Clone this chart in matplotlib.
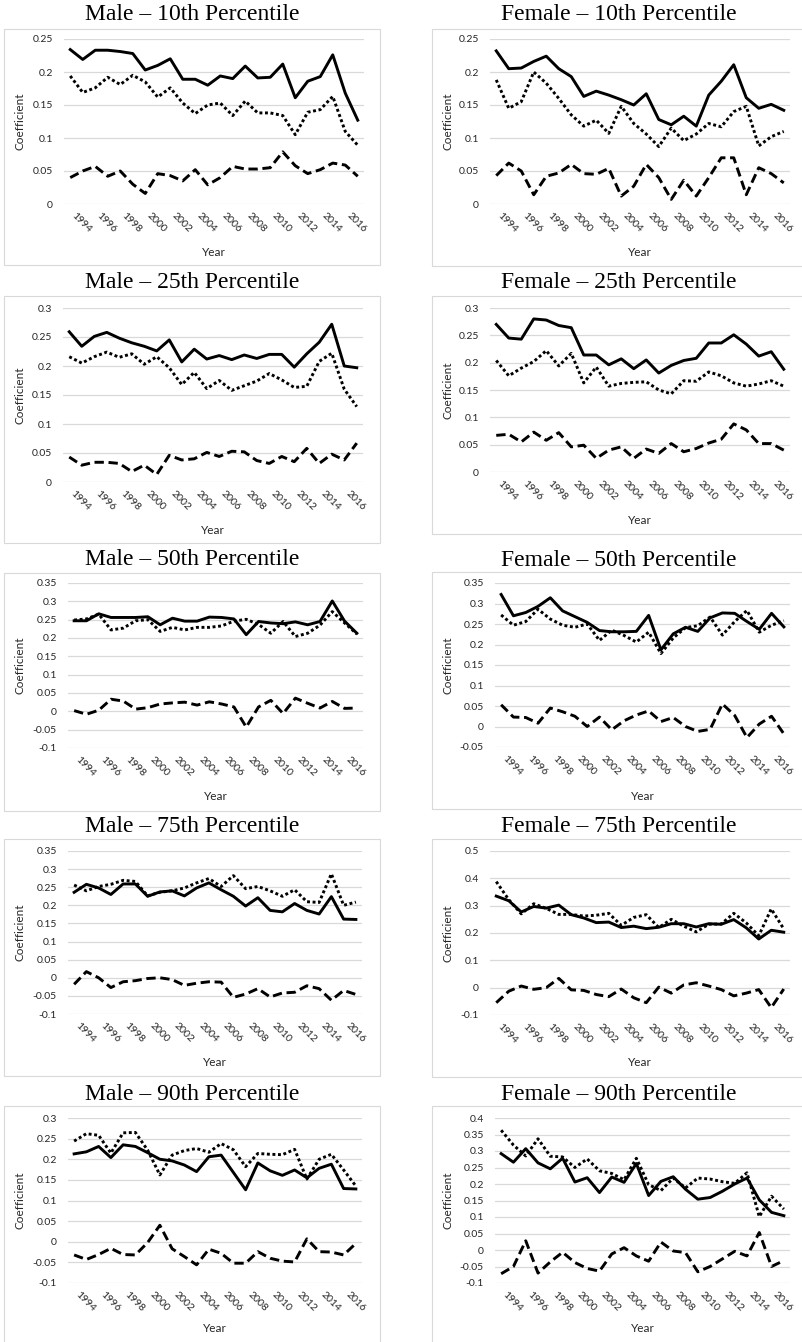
import numpy as np
import matplotlib
matplotlib.use('Agg')
import matplotlib.pyplot as plt
from matplotlib.patches import Rectangle

# Годы и подписи оси X
years = list(range(1994, 2018))
year_labels = [str(y) for y in years[::2]]

# Male - 10th
male_p10_solid = [0.234, 0.219, 0.233, 0.233, 0.231, 0.228, 0.203, 0.210, 0.220, 0.189, 0.189, 0.180,
                  0.194, 0.190, 0.209, 0.191, 0.192, 0.212, 0.161, 0.186, 0.193, 0.226, 0.168, 0.127]
male_p10_dotted = [0.194, 0.169, 0.176, 0.192, 0.181, 0.195, 0.185, 0.162, 0.176, 0.153, 0.137, 0.150,
                   0.153, 0.134, 0.156, 0.138, 0.138, 0.134, 0.105, 0.139, 0.143, 0.163, 0.110, 0.089]
male_p10_dashed = [0.040, 0.050, 0.057, 0.042, 0.050, 0.030, 0.016, 0.046, 0.043, 0.035, 0.052, 0.029,
                   0.040, 0.057, 0.053, 0.053, 0.055, 0.079, 0.058, 0.046, 0.052, 0.062, 0.059, 0.042]

# Female - 10th
female_p10_solid = [0.232, 0.205, 0.206, 0.216, 0.224, 0.205, 0.193, 0.163, 0.171, 0.165, 0.158, 0.150,
                    0.167, 0.128, 0.120, 0.133, 0.118, 0.165, 0.186, 0.211, 0.161, 0.145, 0.151, 0.142]
female_p10_dotted = [0.188, 0.145, 0.155, 0.200, 0.183, 0.160, 0.135, 0.118, 0.127, 0.107, 0.148, 0.122,
                     0.106, 0.087, 0.115, 0.096, 0.106, 0.122, 0.117, 0.140, 0.148, 0.088, 0.102, 0.110]
female_p10_dashed = [0.043, 0.062, 0.050, 0.014, 0.042, 0.047, 0.060, 0.046, 0.045, 0.054, 0.012, 0.027,
                     0.060, 0.040, 0.007, 0.036, 0.012, 0.040, 0.070, 0.070, 0.014, 0.055, 0.046, 0.032]

# Male - 25th
male_p25_solid = [0.259, 0.234, 0.251, 0.258, 0.248, 0.240, 0.234, 0.226, 0.245, 0.207, 0.229, 0.212,
                  0.218, 0.211, 0.219, 0.213, 0.220, 0.220, 0.198, 0.221, 0.241, 0.272, 0.200, 0.197]
male_p25_dotted = [0.216, 0.205, 0.216, 0.224, 0.215, 0.221, 0.203, 0.216, 0.197, 0.168, 0.189, 0.161,
                   0.175, 0.158, 0.166, 0.174, 0.187, 0.176, 0.163, 0.165, 0.208, 0.222, 0.160, 0.130]
male_p25_dashed = [0.043, 0.029, 0.034, 0.034, 0.032, 0.018, 0.029, 0.013, 0.046, 0.038, 0.040, 0.051,
                   0.044, 0.053, 0.052, 0.037, 0.032, 0.044, 0.035, 0.058, 0.032, 0.048, 0.038, 0.067]

# Female - 25th
female_p25_solid = [0.270, 0.245, 0.243, 0.280, 0.278, 0.268, 0.264, 0.214, 0.214, 0.196, 0.207, 0.189,
                    0.205, 0.181, 0.195, 0.204, 0.208, 0.236, 0.236, 0.251, 0.234, 0.212, 0.220, 0.188]
female_p25_dotted = [0.204, 0.176, 0.190, 0.202, 0.222, 0.194, 0.217, 0.163, 0.192, 0.157, 0.162, 0.164,
                     0.165, 0.150, 0.143, 0.167, 0.166, 0.183, 0.176, 0.163, 0.157, 0.161, 0.167, 0.157]
female_p25_dashed = [0.067, 0.069, 0.055, 0.073, 0.058, 0.072, 0.046, 0.049, 0.025, 0.040, 0.046, 0.025,
                     0.042, 0.034, 0.052, 0.037, 0.043, 0.053, 0.060, 0.088, 0.077, 0.052, 0.052, 0.040]

# Male - 50th
male_p50_solid = [0.247, 0.247, 0.266, 0.256, 0.256, 0.256, 0.258, 0.236, 0.254, 0.246, 0.246, 0.257,
                  0.256, 0.252, 0.209, 0.245, 0.241, 0.239, 0.244, 0.236, 0.245, 0.301, 0.246, 0.213]
male_p50_dotted = [0.249, 0.252, 0.265, 0.222, 0.227, 0.247, 0.250, 0.218, 0.229, 0.222, 0.229, 0.229,
                   0.233, 0.246, 0.251, 0.237, 0.213, 0.245, 0.204, 0.213, 0.235, 0.272, 0.241, 0.211]
male_p50_dashed = [0.002, -0.008, 0.003, 0.033, 0.028, 0.006, 0.010, 0.020, 0.023, 0.025, 0.017, 0.026,
                   0.020, 0.012, -0.043, 0.012, 0.030, -0.006, 0.036, 0.022, 0.009, 0.027, 0.008, 0.009]

# Female - 50th
female_p50_solid = [0.322, 0.270, 0.278, 0.293, 0.314, 0.282, 0.268, 0.254, 0.234, 0.231, 0.231, 0.232,
                    0.271, 0.187, 0.226, 0.242, 0.232, 0.265, 0.277, 0.276, 0.256, 0.237, 0.276, 0.243]
female_p50_dotted = [0.272, 0.247, 0.256, 0.286, 0.262, 0.247, 0.242, 0.250, 0.210, 0.235, 0.222, 0.206,
                     0.230, 0.178, 0.216, 0.241, 0.246, 0.267, 0.223, 0.256, 0.283, 0.230, 0.247, 0.258]
female_p50_dashed = [0.053, 0.023, 0.022, 0.008, 0.045, 0.036, 0.025, 0.000, 0.023, -0.008, 0.014, 0.028,
                     0.038, 0.012, 0.022, 0.000, -0.012, -0.007, 0.055, 0.027, -0.027, 0.006, 0.025, -0.018]

# Male - 75th
male_p75_solid = [0.236, 0.258, 0.248, 0.230, 0.259, 0.259, 0.225, 0.237, 0.240, 0.226, 0.248, 0.262,
                  0.243, 0.225, 0.198, 0.221, 0.186, 0.182, 0.205, 0.186, 0.176, 0.224, 0.162, 0.161]
male_p75_dotted = [0.256, 0.240, 0.252, 0.258, 0.269, 0.266, 0.226, 0.236, 0.240, 0.248, 0.262, 0.274,
                   0.252, 0.282, 0.246, 0.252, 0.240, 0.225, 0.243, 0.210, 0.208, 0.287, 0.200, 0.209]
male_p75_dashed = [-0.018, 0.017, 0.000, -0.027, -0.011, -0.008, -0.002, 0.000, -0.005, -0.021, -0.015, -0.011,
                   -0.012, -0.054, -0.045, -0.030, -0.053, -0.042, -0.040, -0.022, -0.030, -0.062, -0.035, -0.046]

# Female - 75th
female_p75_solid = [0.335, 0.318, 0.277, 0.297, 0.291, 0.302, 0.267, 0.255, 0.238, 0.240, 0.220, 0.225,
                    0.216, 0.221, 0.234, 0.234, 0.222, 0.234, 0.232, 0.249, 0.219, 0.178, 0.210, 0.203]
female_p75_dotted = [0.388, 0.322, 0.270, 0.307, 0.290, 0.268, 0.268, 0.262, 0.265, 0.272, 0.228, 0.257,
                     0.267, 0.220, 0.250, 0.225, 0.204, 0.232, 0.233, 0.272, 0.237, 0.190, 0.288, 0.215]
female_p75_dashed = [-0.055, -0.013, 0.006, -0.006, 0.000, 0.034, -0.008, -0.010, -0.025, -0.033, -0.005, -0.037,
                     -0.055, 0.002, -0.020, 0.010, 0.018, 0.006, -0.007, -0.030, -0.020, -0.007, -0.073, -0.005]

# Male - 90th
male_p90_solid = [0.213, 0.218, 0.231, 0.204, 0.235, 0.231, 0.216, 0.200, 0.196, 0.186, 0.170, 0.206,
                  0.210, 0.168, 0.126, 0.191, 0.172, 0.161, 0.174, 0.155, 0.178, 0.188, 0.129, 0.128]
male_p90_dotted = [0.244, 0.262, 0.258, 0.215, 0.264, 0.265, 0.222, 0.162, 0.210, 0.221, 0.226, 0.217,
                   0.238, 0.223, 0.182, 0.214, 0.212, 0.211, 0.224, 0.152, 0.200, 0.212, 0.174, 0.135]
male_p90_dashed = [-0.032, -0.043, -0.031, -0.016, -0.031, -0.032, -0.002, 0.040, -0.017, -0.036, -0.056, -0.018,
                   -0.028, -0.052, -0.052, -0.024, -0.040, -0.047, -0.049, 0.007, -0.024, -0.025, -0.032, -0.004]

# Female - 90th
female_p90_solid = [0.292, 0.266, 0.307, 0.264, 0.246, 0.278, 0.206, 0.219, 0.174, 0.221, 0.205, 0.262,
                    0.165, 0.208, 0.222, 0.184, 0.154, 0.159, 0.178, 0.200, 0.218, 0.152, 0.114, 0.104]
female_p90_dotted = [0.363, 0.318, 0.285, 0.337, 0.284, 0.282, 0.250, 0.276, 0.240, 0.232, 0.213, 0.278,
                     0.198, 0.180, 0.218, 0.188, 0.218, 0.215, 0.207, 0.202, 0.234, 0.101, 0.163, 0.124]
female_p90_dashed = [-0.072, -0.050, 0.028, -0.070, -0.036, -0.007, -0.038, -0.056, -0.064, -0.012, 0.007, -0.018,
                     -0.034, 0.024, -0.003, -0.008, -0.066, -0.050, -0.027, -0.004, -0.018, 0.053, -0.050, -0.032]

W, H = 803, 1342
fig = plt.figure(figsize=(W / 100, H / 100), dpi=100)
sans = ['Lato', 'DejaVu Sans']
txt_color = '#262626'

# (заголовок, данные, рамка, оси, ylim, шаг, y заголовка, y подписи "Year", x подписи "Coefficient")
panels = [
    ("Male – 10th Percentile", (male_p10_solid, male_p10_dotted, male_p10_dashed),
     (4, 29, 380, 265), (64, 39, 364, 204), (0, 0.25), 0.05, 15, 252, 20),
    ("Female – 10th Percentile", (female_p10_solid, female_p10_dotted, female_p10_dashed),
     (432, 29, 806, 266), (490, 39, 790, 204), (0, 0.25), 0.05, 15, 252, 448),
    ("Male – 25th Percentile", (male_p25_solid, male_p25_dotted, male_p25_dashed),
     (4, 296, 380, 543), (63, 308, 363, 482), (0, 0.3), 0.05, 283, 530, 20),
    ("Female – 25th Percentile", (female_p25_solid, female_p25_dotted, female_p25_dashed),
     (432, 296, 806, 534), (490, 308, 790, 472), (0, 0.3), 0.05, 283, 520, 448),
    ("Male – 50th Percentile", (male_p50_solid, male_p50_dotted, male_p50_dashed),
     (4, 573, 380, 811), (68, 583, 363, 748), (-0.1, 0.35), 0.05, 559, 796, 20),
    ("Female – 50th Percentile", (female_p50_solid, female_p50_dotted, female_p50_dashed),
     (432, 572, 806, 809), (495, 583, 790, 747), (-0.05, 0.35), 0.05, 560, 796, 448),
    ("Male – 75th Percentile", (male_p75_solid, male_p75_dotted, male_p75_dashed),
     (4, 839, 380, 1076), (68, 851, 362, 1014), (-0.1, 0.35), 0.05, 827, 1062, 20),
    ("Female – 75th Percentile", (female_p75_solid, female_p75_dotted, female_p75_dashed),
     (432, 839, 806, 1077), (490, 851, 790, 1015), (-0.1, 0.5), 0.1, 827, 1062, 448),
    ("Male – 90th Percentile", (male_p90_solid, male_p90_dotted, male_p90_dashed),
     (4, 1106, 380, 1345), (68, 1118, 362, 1283), (-0.1, 0.3), 0.05, 1095, 1329, 20),
    ("Female – 90th Percentile", (female_p90_solid, female_p90_dotted, female_p90_dashed),
     (432, 1106, 806, 1345), (495, 1118, 790, 1283), (-0.1, 0.4), 0.05, 1095, 1329, 448),
]

styles = ['-', (0, (1, 0.9)), (0, (3.2, 1.6))]

for title, series, box, ax_px, ylim, step, ty, xly, ylx in panels:
    # рамка диаграммы
    bx0, by0, bx1, by1 = box
    fig.patches.append(Rectangle((bx0 / W, 1 - by1 / H), (bx1 - bx0) / W, (by1 - by0) / H,
                                 transform=fig.transFigure, fill=False,
                                 edgecolor='#d9d9d9', linewidth=0.8))
    fig.text((bx0 + bx1) / 2 / W, 1 - ty / H, title, ha='center', va='center',
             fontsize=17, family='Liberation Serif')

    x0, y0, x1, y1 = ax_px
    ax = fig.add_axes([x0 / W, 1 - y1 / H, (x1 - x0) / W, (y1 - y0) / H])
    x = np.arange(len(years))
    for vals, ls in zip(series, styles):
        ax.plot(x, vals, color='black', linestyle=ls, linewidth=2.1)

    ax.set_xlim(-0.5, len(years) - 0.5)
    ax.set_ylim(*ylim)
    ticks = np.arange(ylim[0], ylim[1] + step / 2, step)
    ax.set_yticks(ticks)
    ax.set_yticklabels([format(round(t, 2) + 0.0, 'g') for t in ticks],
                       fontsize=7.5, family=sans, color=txt_color)
    ax.set_xticks(x[::2])
    ax.set_xticklabels(year_labels, rotation=-45, ha='left', va='top',
                       fontsize=7.5, family=sans, color=txt_color)
    ax.tick_params(length=0)
    ax.tick_params(axis='x', pad=5)
    ax.tick_params(axis='y', pad=8)
    for s in ax.spines.values():
        s.set_visible(False)
    ax.grid(axis='y', color='#d9d9d9', linewidth=0.9)
    ax.set_axisbelow(True)

    fig.text((x0 + x1) / 2 / W, 1 - xly / H, "Year", ha='center', va='center',
             fontsize=8.5, family=sans, color=txt_color)
    fig.text(ylx / W, 1 - (y0 + y1) / 2 / H, "Coefficient", ha='center', va='center',
             rotation=90, fontsize=8.5, family=sans, color=txt_color)

fig.savefig('out.png', dpi=100)
